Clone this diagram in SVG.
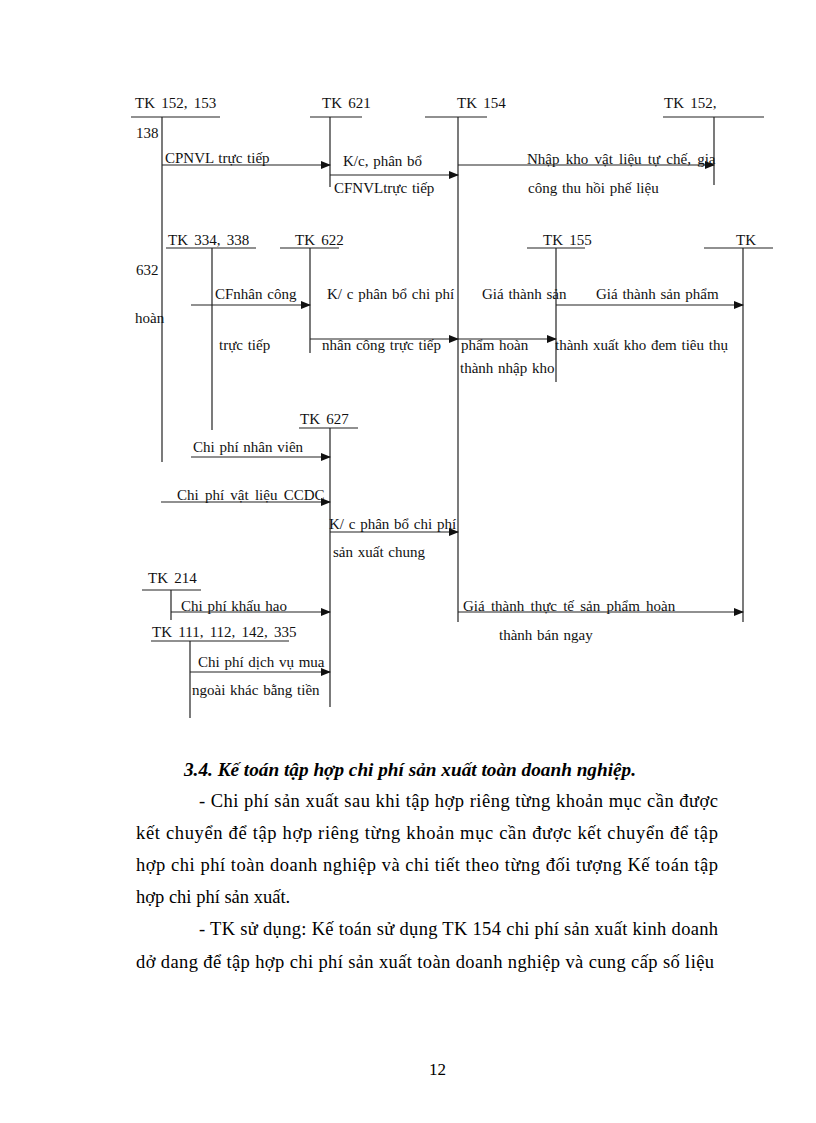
<svg xmlns="http://www.w3.org/2000/svg" width="816" height="1123" viewBox="0 0 816 1123">
<style>
.t{font-family:"Liberation Serif","Times New Roman",serif;font-size:15px;fill:#111;word-spacing:1px;}
.w{word-spacing:2.5px;}
.b{font-family:"Liberation Serif","Times New Roman",serif;font-size:18.5px;fill:#000;}
.h{font-family:"Liberation Serif","Times New Roman",serif;font-size:18px;font-weight:bold;font-style:italic;fill:#000;}
.ln{stroke:#222;stroke-width:1.2;fill:none;}
.ar{stroke:#222;stroke-width:1.2;fill:none;marker-end:url(#ah);}
</style>
<defs>
<marker id="ah" markerUnits="userSpaceOnUse" markerWidth="10" markerHeight="8" refX="9" refY="4" orient="auto">
<path d="M0,0 L10,4 L0,8 z" fill="#111"/>
</marker>
</defs>
<rect x="0" y="0" width="816" height="1123" fill="#fff"/>

<g id="tk152_153">
<text class="t w" x="135" y="108">TK 152, 153</text>
<line class="ln" x1="131" y1="117" x2="220" y2="117"/>
<line class="ln" x1="162" y1="117" x2="162" y2="462"/>
</g>
<g id="tk621">
<text class="t w" x="322" y="108">TK 621</text>
<line class="ln" x1="310" y1="117" x2="362" y2="117"/>
<line class="ln" x1="330" y1="117" x2="330" y2="187"/>
</g>
<g id="tk154">
<text class="t w" x="457" y="108">TK 154</text>
<line class="ln" x1="425" y1="117" x2="487" y2="117"/>
<line class="ln" x1="458" y1="117" x2="458" y2="622"/>
</g>
<g id="tk152b">
<text class="t w" x="664" y="108">TK 152,</text>
<line class="ln" x1="663" y1="117" x2="764" y2="117"/>
<line class="ln" x1="714" y1="117" x2="714" y2="185"/>
</g>
<g id="tk334_338">
<text class="t w" x="168" y="245">TK 334, 338</text>
<line class="ln" x1="166" y1="248" x2="256" y2="248"/>
<line class="ln" x1="212" y1="248" x2="212" y2="430"/>
</g>
<g id="tk622">
<text class="t w" x="295" y="245">TK 622</text>
<line class="ln" x1="280" y1="248" x2="339" y2="248"/>
<line class="ln" x1="310" y1="248" x2="310" y2="353"/>
</g>
<g id="tk155">
<text class="t w" x="543" y="245">TK 155</text>
<line class="ln" x1="527" y1="248" x2="585" y2="248"/>
<line class="ln" x1="556" y1="248" x2="556" y2="382"/>
</g>
<g id="tk_right">
<text class="t" x="736" y="245">TK</text>
<line class="ln" x1="704" y1="248" x2="773" y2="248"/>
<line class="ln" x1="743" y1="248" x2="743" y2="622"/>
</g>
<g id="tk627">
<text class="t w" x="300" y="424">TK 627</text>
<line class="ln" x1="299" y1="428" x2="358" y2="428"/>
<line class="ln" x1="330" y1="428" x2="330" y2="707"/>
</g>
<g id="tk214">
<text class="t w" x="148" y="583">TK 214</text>
<line class="ln" x1="142" y1="590" x2="201" y2="590"/>
<line class="ln" x1="171" y1="590" x2="171" y2="620"/>
</g>
<g id="tk111">
<text class="t w" x="152" y="637">TK 111, 112, 142, 335</text>
<line class="ln" x1="151" y1="641" x2="289" y2="641"/>
<line class="ln" x1="190" y1="641" x2="190" y2="718"/>
</g>
<g id="fragments">
<text class="t" x="136" y="138">138</text>
<text class="t" x="136" y="275">632</text>
<text class="t" x="135" y="323">hoàn</text>
</g>

<g id="connectors">
<line class="ar" x1="162" y1="165" x2="330" y2="165"/>
<line class="ar" x1="330" y1="175" x2="458" y2="175"/>
<line class="ar" x1="458" y1="165" x2="714" y2="165"/>
<line class="ar" x1="191" y1="305" x2="310" y2="305"/>
<line class="ar" x1="310" y1="339" x2="458" y2="339"/>
<line class="ar" x1="458" y1="339" x2="556" y2="339"/>
<line class="ar" x1="556" y1="305" x2="743" y2="305"/>
<line class="ar" x1="191" y1="457" x2="330" y2="457"/>
<line class="ar" x1="161" y1="502" x2="330" y2="502"/>
<line class="ar" x1="330" y1="532" x2="458" y2="532"/>
<line class="ar" x1="171" y1="612" x2="330" y2="612"/>
<line class="ar" x1="190" y1="672" x2="330" y2="672"/>
<line class="ar" x1="458" y1="612" x2="743" y2="612"/>
</g>

<g id="connector-labels">
<text class="t" x="165" y="163">CPNVL trực tiếp</text>
<text class="t" x="343" y="166">K/c, phân bổ</text>
<text class="t" x="334" y="193">CFNVLtrực tiếp</text>
<text class="t w" x="527" y="164">Nhập kho vật liệu tự chế, gia</text>
<text class="t" x="528" y="193">công thu hồi phế liệu</text>
<text class="t" x="215" y="299">CFnhân công</text>
<text class="t" x="219" y="350">trực tiếp</text>
<text class="t" x="327" y="299">K/ c phân bổ chi phí</text>
<text class="t" x="322" y="350">nhân công trực tiếp</text>
<text class="t" x="482" y="299">Giá thành sản</text>
<text class="t" x="461" y="350">phẩm hoàn</text>
<text class="t" x="460" y="373">thành nhập kho</text>
<text class="t" x="596" y="299">Giá thành sản phẩm</text>
<text class="t" x="555" y="350">thành xuất kho đem tiêu thụ</text>
<text class="t" x="193" y="452">Chi phí nhân viên</text>
<text class="t w" x="177" y="500">Chi phí vật liệu  CCDC</text>
<text class="t" x="329" y="529">K/ c phân bổ chi phí</text>
<text class="t" x="333" y="557">sản xuất chung</text>
<text class="t" x="181" y="611">Chi phí khấu hao</text>
<text class="t" x="198" y="667">Chi phí dịch vụ mua</text>
<text class="t" x="192" y="695">ngoài khác bằng tiền</text>
<text class="t w" x="463" y="611">Giá thành thực tế sản phẩm hoàn</text>
<text class="t" x="499" y="640">thành bán ngay</text>
</g>

<g id="body-text">
<text class="h" x="184" y="776" textLength="452" lengthAdjust="spacingAndGlyphs">3.4. Kế toán tập hợp chi phí sản xuất toàn doanh nghiệp.</text>
<text class="b" x="199" y="807" textLength="519" lengthAdjust="spacing">- Chi phí sản xuất sau khi tập hợp riêng từng khoản mục cần được</text>
<text class="b" x="136" y="839" textLength="582" lengthAdjust="spacing">kết chuyển để tập hợp riêng từng khoản mục cần được kết chuyển để tập</text>
<text class="b" x="136" y="871" textLength="582" lengthAdjust="spacing">hợp chi phí toàn doanh nghiệp và chi tiết theo từng đối tượng Kế toán tập</text>
<text class="b" x="136" y="903">hợp chi phí sản xuất.</text>
<text class="b" x="199" y="935" textLength="519" lengthAdjust="spacing">- TK sử dụng: Kế toán sử dụng TK 154 chi phí sản xuất kinh doanh</text>
<text class="b" x="136" y="968" textLength="578" lengthAdjust="spacing">dở dang để tập hợp chi phí sản xuất toàn doanh nghiệp và cung cấp số liệu</text>
<text class="b" x="429" y="1075" style="font-size:17px">12</text>
</g>
</svg>
